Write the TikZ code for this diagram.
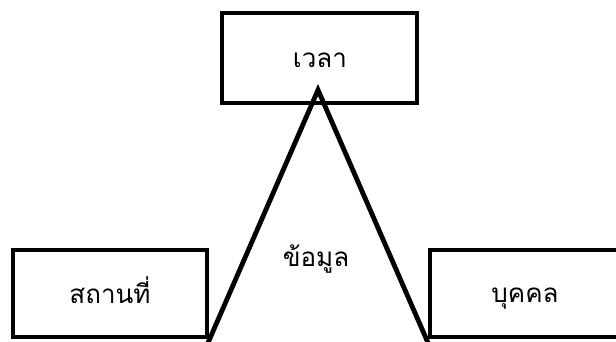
\documentclass[tikz,border=0pt]{standalone}
\usepackage{fontspec}
\newfontfamily\thaifont[Script=Thai]{Loma}
\begin{document}
\begin{tikzpicture}[x=1pt,y=-1pt,
  box/.style={draw=black,line width=4.8pt,minimum width=194pt,minimum height=87pt,inner sep=0pt},
  tri/.style={line width=4.8pt,line join=miter},
  lbl/.style={anchor=base,inner sep=0pt,font=\thaifont\fontsize{26}{30}\selectfont}]
\useasboundingbox (0,0) rectangle (616,342);
\coordinate (apex) at (318,90);
\coordinate (bl) at (204,352);
\coordinate (br) at (432,352);
\draw[tri] (bl) -- (apex) -- (br);
\node[box,minimum width=195pt,minimum height=90pt] (time) at (319.5,58) {};
\node[box] (place) at (110,293.5) {};
\node[box] (person) at (527,293.5) {};
\node[lbl] (timetext) at (320,68) {เวลา};
\node[lbl] (placetext) at (110,303) {สถานที่};
\node[lbl] (persontext) at (525,302) {บุคคล};
\node[lbl] (data) at (316,266) {ข้อมูล};
\end{tikzpicture}
\end{document}
